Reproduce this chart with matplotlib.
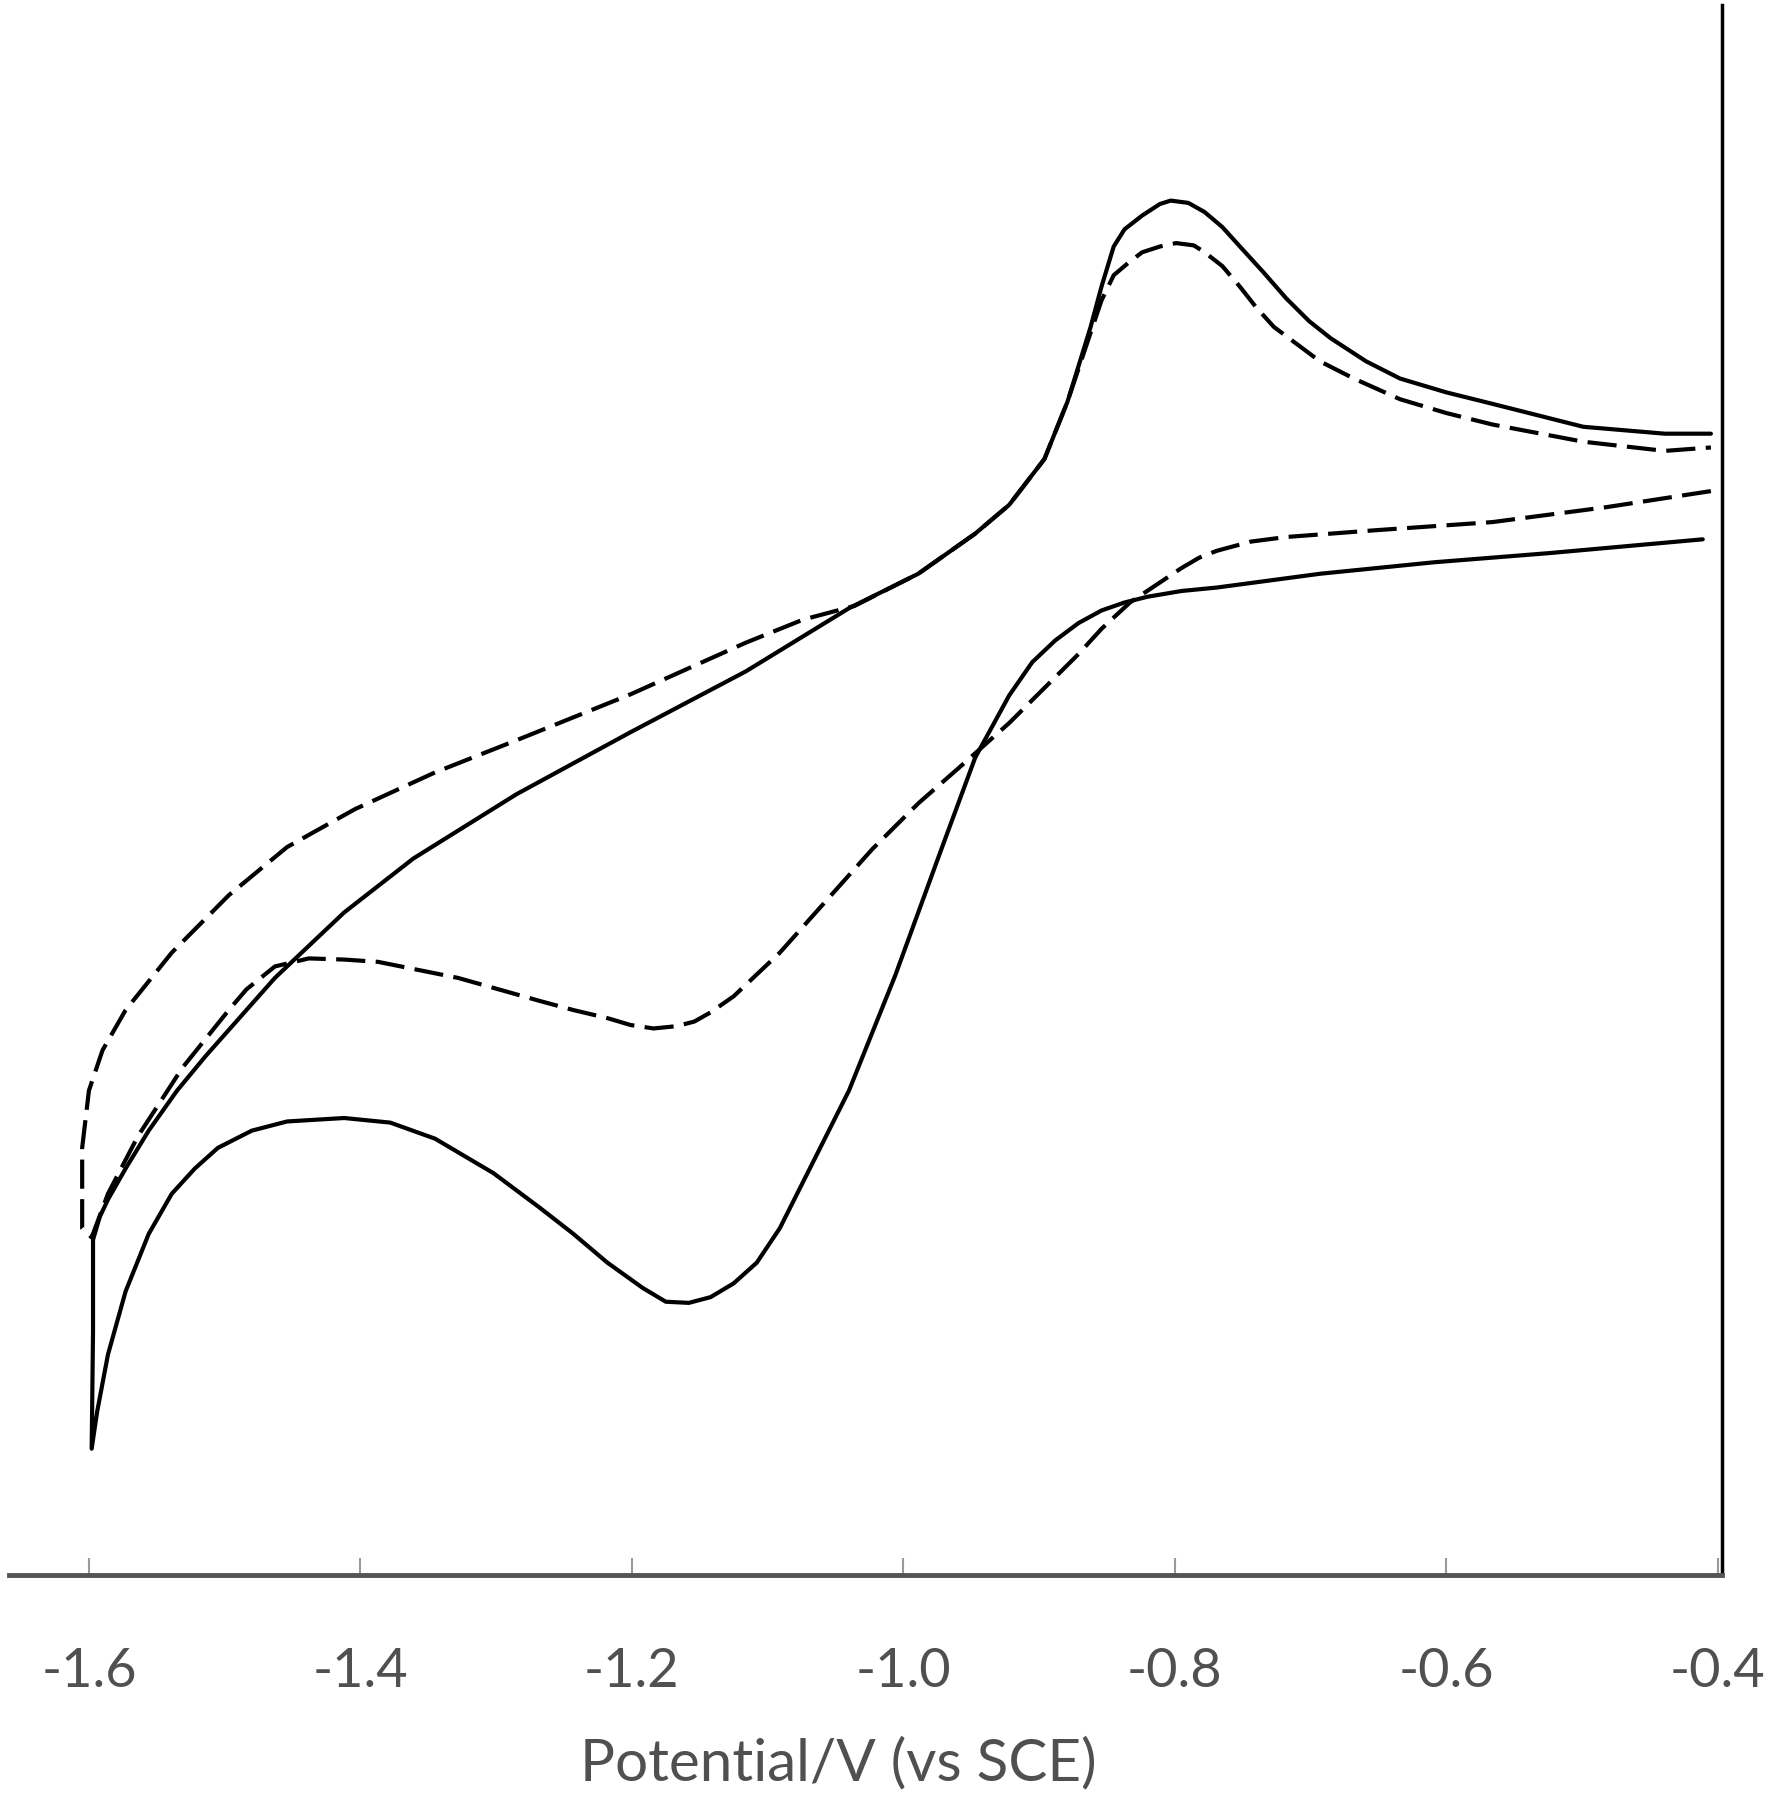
import matplotlib.pyplot as plt

# Cyclic voltammogram, two scans (solid and dashed); current in arbitrary units
solid_fwd_E = [-0.411, -0.524, -0.609, -0.693, -0.769, -0.795, -0.820, -0.837, -0.854, -0.871,
               -0.888, -0.905, -0.922, -0.947, -0.972, -1.006, -1.040, -1.074, -1.091, -1.108,
               -1.125, -1.142, -1.158, -1.175, -1.192, -1.218, -1.243, -1.268, -1.302, -1.345,
               -1.378, -1.412, -1.454, -1.480, -1.505, -1.522, -1.539, -1.556, -1.573, -1.586,
               -1.594, -1.598]
solid_fwd_I = [9.02, 8.90, 8.82, 8.72, 8.60, 8.57, 8.52, 8.47, 8.40, 8.29,
               8.14, 7.95, 7.66, 7.12, 6.32, 5.22, 4.22, 3.42, 3.02, 2.72,
               2.54, 2.42, 2.37, 2.38, 2.50, 2.72, 2.97, 3.20, 3.50, 3.80,
               3.94, 3.98, 3.95, 3.87, 3.72, 3.54, 3.32, 2.97, 2.47, 1.92,
               1.42, 1.10]

solid_rev_E = [-1.598, -1.597, -1.597, -1.592, -1.586, -1.573, -1.556, -1.535, -1.514, -1.463,
               -1.412, -1.361, -1.285, -1.201, -1.116, -1.040, -0.989, -0.947, -0.922, -0.896,
               -0.879, -0.862, -0.854, -0.845, -0.837, -0.824, -0.811, -0.803, -0.790, -0.778,
               -0.765, -0.752, -0.735, -0.718, -0.701, -0.685, -0.659, -0.634, -0.600, -0.566,
               -0.499, -0.439, -0.405]
solid_rev_I = [1.10, 2.12, 2.92, 3.12, 3.27, 3.54, 3.87, 4.22, 4.52, 5.20,
               5.77, 6.24, 6.80, 7.34, 7.87, 8.42, 8.72, 9.07, 9.32, 9.72,
               10.22, 10.87, 11.22, 11.57, 11.72, 11.84, 11.94, 11.97, 11.95, 11.87,
               11.74, 11.57, 11.35, 11.12, 10.92, 10.77, 10.57, 10.42, 10.30, 10.20,
               10.00, 9.94, 9.94]

dash_fwd_E = [-0.405, -0.482, -0.566, -0.651, -0.718, -0.744, -0.769, -0.782, -0.795, -0.833,
              -0.854, -0.871, -0.922, -0.960, -0.989, -1.023, -1.057, -1.091, -1.125, -1.142,
              -1.154, -1.167, -1.184, -1.201, -1.218, -1.243, -1.268, -1.328, -1.387, -1.412,
              -1.438, -1.463, -1.484, -1.497, -1.531, -1.564, -1.586, -1.598]
dash_fwd_I = [9.44, 9.30, 9.17, 9.10, 9.04, 9.00, 8.92, 8.86, 8.77, 8.47,
              8.24, 8.02, 7.42, 7.02, 6.72, 6.32, 5.87, 5.42, 5.04, 4.90,
              4.82, 4.78, 4.76, 4.79, 4.85, 4.92, 5.00, 5.20, 5.34, 5.36,
              5.37, 5.30, 5.10, 4.92, 4.42, 3.82, 3.32, 2.94]

dash_rev_E = [-1.605, -1.605, -1.600, -1.590, -1.573, -1.556, -1.539, -1.497, -1.454, -1.404,
              -1.345, -1.285, -1.201, -1.116, -1.074, -1.036, -0.989, -0.947, -0.922, -0.896,
              -0.879, -0.862, -0.854, -0.845, -0.833, -0.824, -0.811, -0.799, -0.786, -0.778,
              -0.765, -0.752, -0.740, -0.727, -0.710, -0.693, -0.668, -0.634, -0.600, -0.566,
              -0.499, -0.439, -0.405]
dash_rev_I = [3.02, 3.72, 4.22, 4.57, 4.92, 5.17, 5.42, 5.92, 6.34, 6.67,
              6.99, 7.27, 7.67, 8.12, 8.32, 8.44, 8.72, 9.07, 9.32, 9.72,
              10.22, 10.82, 11.10, 11.32, 11.44, 11.52, 11.57, 11.60, 11.58, 11.52,
              11.40, 11.22, 11.04, 10.87, 10.72, 10.57, 10.42, 10.24, 10.12, 10.02,
              9.87, 9.79, 9.82]

x_ticks = [-1.6, -1.4, -1.2, -1.0, -0.8, -0.6, -0.4]
x_ticklabels = ['-1.6', '-1.4', '-1.2', '-1.0', '-0.8', '-0.6', '-0.4']

plt.rcParams['font.family'] = ['Lato', 'DejaVu Sans']

fig = plt.figure(figsize=(17.75, 18), dpi=100)
ax = fig.add_axes([0.005, 0.125, 0.965, 0.872])

lw = 3.0
ax.plot(solid_fwd_E + solid_rev_E, solid_fwd_I + solid_rev_I, color='black', lw=lw,
        solid_joinstyle='round', solid_capstyle='round')
ax.plot(dash_fwd_E + dash_rev_E, dash_fwd_I + dash_rev_I, color='black', lw=lw,
        linestyle=(0, (7, 2.5)), dash_joinstyle='round')

ax.set_xlim(-1.659, -0.397)
ax.set_ylim(0, 13.67)

for side in ['left', 'top']:
    ax.spines[side].set_visible(False)
ax.spines['bottom'].set_color('#555555')
ax.spines['bottom'].set_linewidth(3.5)
ax.spines['right'].set_color('black')
ax.spines['right'].set_linewidth(2.5)

ax.set_yticks([])
ax.set_xticks(x_ticks)
ax.set_xticklabels(x_ticklabels)
ax.tick_params(axis='x', direction='in', length=12, width=1.5, color='#999999',
               labelsize=39, labelcolor='#505050', pad=52)
ax.set_xlabel('Potential/V (vs SCE)', fontsize=42, color='#505050')
ax.xaxis.set_label_coords(0.484, -0.103)

fig.savefig('out.png', dpi=100)
